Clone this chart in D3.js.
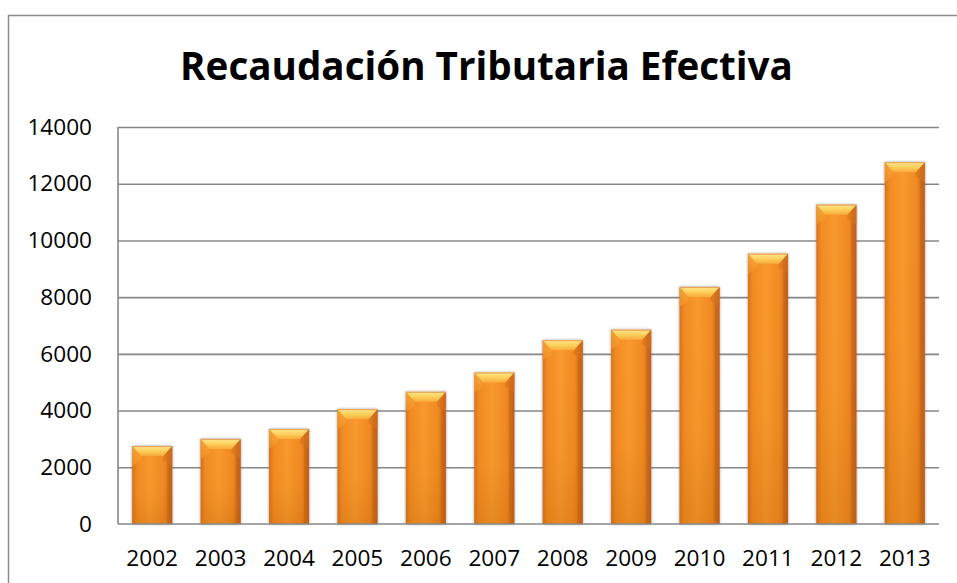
<!DOCTYPE html>
<html>
<head>
<meta charset="utf-8">
<script src="https://cdn.jsdelivr.net/npm/d3@7"></script>
<style>
  body { margin: 0; background: #fff; }
  svg { display: block; font-family: "Open Sans", "Noto Sans", sans-serif; }
</style>
</head>
<body>
<svg id="chart"></svg>
<script>
// data
const years = ["2002","2003","2004","2005","2006","2007","2008","2009","2010","2011","2012","2013"];
const recaudacion = [2750, 3000, 3350, 4050, 4660, 5340, 6480, 6850, 8360, 9530, 11260, 12760];
const yTicks = [0, 2000, 4000, 6000, 8000, 10000, 12000, 14000];
const title = "Recaudación Tributaria Efectiva";

const width = 957, height = 583,
      margin = {top: 127, right: 18, bottom: 59, left: 118},
      bodyWidth = width - margin.left - margin.right,
      bodyHeight = height - margin.top - margin.bottom;

const svg = d3.select("#chart").attr("width", width).attr("height", height);

const defs = svg.append("defs");

// horizontal shading of the bar body
const gBody = defs.append("linearGradient").attr("id", "barBody");
[["0%","#d8731c"],["12%","#f28c22"],["45%","#f9992f"],["80%","#f08a22"],["100%","#c4621a"]]
  .forEach(s => gBody.append("stop").attr("offset", s[0]).attr("stop-color", s[1]));

// darker toward the bottom
const gShade = defs.append("linearGradient").attr("id", "barShade")
  .attr("x1", 0).attr("y1", 0).attr("x2", 0).attr("y2", 1);
gShade.append("stop").attr("offset", "0%").attr("stop-color", "#b45a00").attr("stop-opacity", 0);
gShade.append("stop").attr("offset", "60%").attr("stop-color", "#b45a00").attr("stop-opacity", 0.05);
gShade.append("stop").attr("offset", "100%").attr("stop-color", "#b45a00").attr("stop-opacity", 0.25);

// yellow bevel on top
const gTop = defs.append("linearGradient").attr("id", "barTop")
  .attr("x1", 0).attr("y1", 0).attr("x2", 0).attr("y2", 1);
gTop.append("stop").attr("offset", "0%").attr("stop-color", "#fee68a");
gTop.append("stop").attr("offset", "50%").attr("stop-color", "#fcd05c");
gTop.append("stop").attr("offset", "100%").attr("stop-color", "#f8aa3a");

// side bevel pieces at the top corners
const gSide = defs.append("linearGradient").attr("id", "barSide")
  .attr("x1", 0).attr("y1", 0).attr("x2", 0).attr("y2", 1);
gSide.append("stop").attr("offset", "0%").attr("stop-color", "#f8b040");
gSide.append("stop").attr("offset", "100%").attr("stop-color", "#f39226");

const shadow = defs.append("filter").attr("id", "shadow")
  .attr("x", "-30%").attr("y", "-10%").attr("width", "160%").attr("height", "120%");
shadow.append("feDropShadow").attr("dx", 0).attr("dy", 0)
  .attr("stdDeviation", 1.6).attr("flood-color", "#6e6e6e").attr("flood-opacity", 0.7);

// outer chart frame (only left and top edges are inside the picture)
svg.append("rect")
  .attr("x", 8.5).attr("y", 15.5)
  .attr("width", width + 20).attr("height", height + 20)
  .attr("fill", "none").attr("stroke", "#8c8c8c").attr("stroke-width", 1.5);

// title, fitted to the width it has in the picture
const titleText = svg.append("text")
  .attr("x", 486.5).attr("y", 80)
  .attr("text-anchor", "middle")
  .style("font-weight", "bold")
  .style("font-size", "40px")
  .text(title);
const tw = titleText.node().getComputedTextLength();
titleText.style("font-size", (40 * 613 / tw) + "px");

const body = svg.append("g").attr("transform", `translate(${margin.left},${margin.top})`);

const x = d3.scaleBand().domain(years).range([0, bodyWidth]).paddingInner(0.415).paddingOuter(0.2075);
const y = d3.scaleLinear().domain([0, 14000]).range([bodyHeight, 0]);

// gridlines
body.append("g")
  .call(d3.axisLeft(y).tickValues(yTicks.slice(1)).tickSize(-bodyWidth).tickFormat(""))
  .call(g => g.select(".domain").remove())
  .call(g => g.selectAll("line").attr("stroke", "#878787").attr("stroke-width", 1.6));

// y tick labels
body.append("g")
  .attr("transform", "translate(-26,0)")
  .call(d3.axisLeft(y).tickValues(yTicks).tickSize(0).tickPadding(0).tickFormat(d3.format("d")))
  .call(g => g.select(".domain").remove())
  .call(g => g.selectAll("text")
    .attr("fill", "#000").style("font-size", "22.6px")
    .style("font-family", "'Open Sans', sans-serif"));

// bars
const bars = body.selectAll("g.bar")
  .data(years.map((d, i) => ({year: d, value: recaudacion[i]})))
  .enter().append("g").attr("class", "bar")
  .attr("transform", d => `translate(${x(d.year)},${y(d.value)})`);

const bw = x.bandwidth(), bev = 10, ins = 9;
bars.append("rect")
  .attr("width", bw)
  .attr("height", d => bodyHeight - y(d.value))
  .attr("fill", "url(#barBody)")
  .attr("filter", "url(#shadow)");
bars.append("rect")
  .attr("width", bw)
  .attr("height", d => bodyHeight - y(d.value))
  .attr("fill", "url(#barShade)");
// right side darker strip
bars.append("rect")
  .attr("x", bw - 5).attr("width", 5)
  .attr("height", d => bodyHeight - y(d.value))
  .attr("fill", "#b85a12").attr("opacity", 0.35);
// top corner bevels
bars.append("path")
  .attr("d", `M0,0 L${ins},${bev} L${ins},${bev + 4} L0,${bev + 10} Z`)
  .attr("fill", "url(#barSide)").attr("opacity", 0.7);
bars.append("path")
  .attr("d", `M${bw},0 L${bw - ins},${bev} L${bw - ins},${bev + 4} L${bw},${bev + 10} Z`)
  .attr("fill", "#d7721c").attr("opacity", 0.6);
// top bevel
bars.append("path")
  .attr("d", `M0,0 L${bw},0 L${bw - ins},${bev} L${ins},${bev} Z`)
  .attr("fill", "url(#barTop)");
bars.append("line")
  .attr("x1", 0).attr("x2", bw).attr("y1", 0.5).attr("y2", 0.5)
  .attr("stroke", "#e9a050").attr("stroke-width", 1);

// axes lines
body.append("line")
  .attr("x1", 0).attr("x2", bodyWidth)
  .attr("y1", y(0)).attr("y2", y(0))
  .attr("stroke", "#878787").attr("stroke-width", 1.6);
body.append("line")
  .attr("x1", 0).attr("x2", 0)
  .attr("y1", y(14000)).attr("y2", y(0))
  .attr("stroke", "#878787").attr("stroke-width", 1.6);

// x labels
body.append("g")
  .attr("transform", `translate(0,${bodyHeight})`)
  .call(d3.axisBottom(x).tickSize(0).tickPadding(26))
  .call(g => g.select(".domain").remove())
  .call(g => g.selectAll("text")
    .attr("fill", "#000").style("font-size", "22.6px")
    .style("font-family", "'Open Sans', sans-serif"));
</script>
</body>
</html>
